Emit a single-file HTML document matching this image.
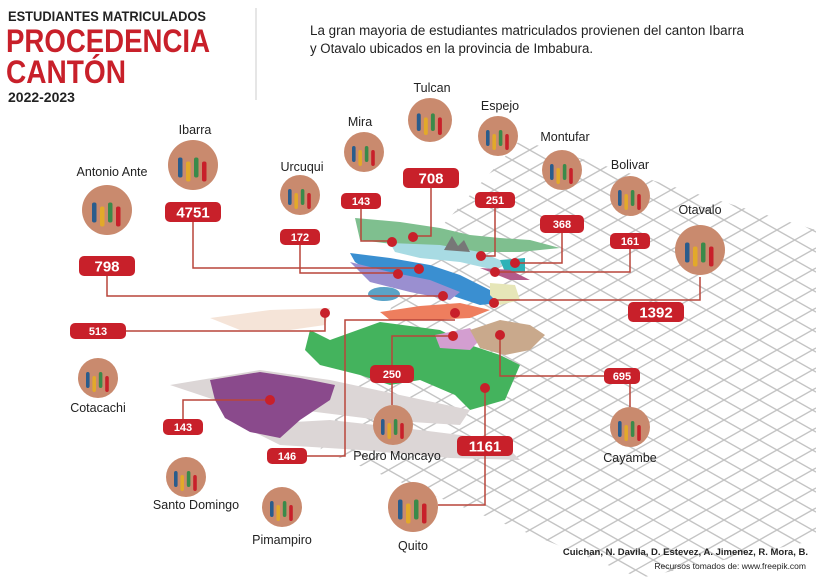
<!DOCTYPE html>
<html><head><meta charset="utf-8"><style>
html,body{margin:0;padding:0;background:#fff;width:816px;height:580px;overflow:hidden;}
svg{display:block;font-family:"Liberation Sans",sans-serif;overflow:hidden;}
</style></head><body>
<svg id="c" width="816" height="580" viewBox="0 0 816 580">
<defs><clipPath id="gc"><polygon points="520,140 816,230 816,540 640,578 320,450 420,250"/></clipPath></defs>
<g id="grid" clip-path="url(#gc)"></g>
<g>
<polygon points="170,385 260,370 330,380 400,395 470,410 460,425 380,420 300,410 230,405" fill="#dcd6d6"/>
<polygon points="240,425 330,420 420,430 500,440 520,460 450,458 360,450 280,445" fill="#dcd6d6"/>
<polygon points="310,330 330,340 380,322 440,330 470,345 500,355 520,365 505,400 470,410 455,395 420,380 390,385 360,375 320,365 305,350" fill="#44b35d"/>
<polygon points="435,335 470,328 480,340 470,350 440,348" fill="#d39ed0"/>
<polygon points="470,330 500,320 530,325 545,335 530,350 505,355 480,348" fill="#c9a98c"/>
<polygon points="210,380 260,372 300,378 335,385 330,400 300,420 280,438 250,432 225,418 215,400" fill="#8a4a8c"/>
<polygon points="210,318 270,310 330,308 325,325 290,330 240,330" fill="#f5e4d8"/>
<polygon points="380,312 420,306 460,303 490,310 470,318 430,320 390,320" fill="#ee7e5e"/>
<polygon points="355,218 400,222 440,228 470,235 500,238 530,240 560,248 520,252 480,252 440,250 400,245 360,240" fill="#7fbf8f"/>
<polygon points="390,243 440,245 480,252 505,262 495,270 460,262 420,258 395,252" fill="#a8dbe3"/>
<polygon points="350,253 390,258 430,265 460,275 490,290 500,303 480,305 450,295 410,285 370,272 355,262" fill="#3a8fd1"/>
<polygon points="350,262 390,272 430,280 460,292 450,300 410,292 370,282" fill="#9a8fd0"/>
<polygon points="500,260 525,258 525,272 505,272" fill="#2fb2b7"/>
<polygon points="480,268 510,270 530,280 510,280" fill="#b45a8a"/>
<polygon points="490,283 515,285 520,300 500,305 490,295" fill="#e6e6b8"/>
<ellipse cx="384" cy="294" rx="16" ry="7" fill="#5aa3c7"/>
<polygon points="444,250 452,236 458,246 464,240 470,252" fill="#777"/>
</g>
<g id="callouts"></g>
<g>
<text x="8" y="21" font-size="14" font-weight="bold" fill="#222" textLength="198" lengthAdjust="spacingAndGlyphs">ESTUDIANTES MATRICULADOS</text>
<text x="6" y="52" font-size="32" font-weight="bold" fill="#c8202a" textLength="204" lengthAdjust="spacingAndGlyphs">PROCEDENCIA</text>
<text x="6" y="83" font-size="32" font-weight="bold" fill="#c8202a" textLength="120" lengthAdjust="spacingAndGlyphs">CANTÓN</text>
<text x="8" y="102" font-size="14" font-weight="bold" fill="#222">2022-2023</text>
<line x1="256" y1="8" x2="256" y2="100" stroke="#ccc"/>
<text x="310" y="35" font-size="13.5" fill="#222" textLength="434" lengthAdjust="spacingAndGlyphs">La gran mayoria de estudiantes matriculados provienen del canton Ibarra</text>
<text x="310" y="53" font-size="13.5" fill="#222" textLength="283" lengthAdjust="spacingAndGlyphs">y Otavalo ubicados en la provincia de Imbabura.</text>
<text x="808" y="555" font-size="9.5" font-weight="bold" fill="#222" text-anchor="end">Cuichan, N. Davila, D. Estevez, A. Jimenez, R. Mora, B.</text>
<text x="806" y="569" font-size="8.5" fill="#222" text-anchor="end">Recursos tomados de: www.freepik.com</text>
</g>
</svg>
<script>
const cantons=["Ibarra","Antonio Ante","Urcuqui","Mira","Tulcan","Espejo","Montufar","Bolivar","Otavalo","Cotacachi","Santo Domingo","Pimampiro","Pedro Moncayo","Quito","Cayambe"];
const students=[4751,798,172,143,708,251,368,161,1392,513,143,146,250,1161,695];
const layout=[
 [193,165,25,195,134,193,212,56,20,"M193,212 V268 H419",419,269],
 [107,210,25,112,176,107,266,56,20,"M107,266 V296 H443",443,296],
 [300,195,20,302,171,300,237,40,16,"M300,237 V273 H398",398,274],
 [364,152,20,360,126,361,201,40,16,"M361,201 V241 H392",392,242],
 [430,120,22,432,92,431,178,56,20,"M431,178 V236 H413",413,237],
 [498,136,20,500,110,495,200,40,16,"M495,200 V256 H481",481,256],
 [562,170,20,565,141,562,224,44,18,"M562,224 V263 H515",515,263],
 [630,196,20,630,169,630,241,40,16,"M630,241 V272 H495",495,272],
 [700,250,25,700,214,656,312,56,20,"M700,277 V300 H494",494,303],
 [98,378,20,98,412,98,331,56,16,"M70,331 H325 V313",325,313],
 [186,477,20,196,509,183,427,40,16,"M183,427 V400 H270",270,400],
 [282,507,20,282,544,287,456,40,16,"M287,456 H345 V320 H455",455,313],
 [393,425,20,397,460,392,374,44,18,"M392,405 V336 H453",453,336],
 [413,507,25,413,550,485,446,56,20,"M485,388 V505 H438",485,388],
 [630,427,20,630,462,622,376,36,16,"M630,407 V376 H500 V335",500,335]
];
const NS="http://www.w3.org/2000/svg";
const g=document.getElementById('callouts');
const grid=document.getElementById('grid');
const XMIN=300,XMAX=816,YMIN=130,YMAX=580,S=300/530;
function clipLine(x0,y0,s){
 // line y = y0 + s*(x-x0); clip to box
 let xa=XMIN,xb=XMAX;
 const yAt=x=>y0+s*(x-x0), xAt=y=>x0+(y-y0)/s;
 let lo=Math.max(xa,Math.min(xAt(YMIN),xAt(YMAX))), hi=Math.min(xb,Math.max(xAt(YMIN),xAt(YMAX)));
 if(hi-lo<1) return null;
 return [lo,yAt(lo),hi,yAt(hi)];
}
for(let k=-40;k<40;k++){
 [S,-S].forEach(s=>{
  const seg=clipLine(300,120+k*20,s);
  if(!seg) return;
  const a=document.createElementNS(NS,'line');
  a.setAttribute('x1',seg[0]);a.setAttribute('y1',seg[1]);a.setAttribute('x2',seg[2]);a.setAttribute('y2',seg[3]);
  a.setAttribute('stroke','#c4c4c4');a.setAttribute('stroke-width','1.4');
  
  
  grid.appendChild(a);
 });
}
function el(t,attrs,parent){const e=document.createElementNS(NS,t);for(const k in attrs)e.setAttribute(k,attrs[k]);parent.appendChild(e);return e;}
cantons.forEach((name,i)=>{
 const L=layout[i];
 const grp=el('g',{},g);
 
 
 const p=el('path',{d:L[9],fill:'none',stroke:'#b9453a','stroke-width':1.5},grp);
 
 
 const d=el('circle',{cx:L[10],cy:L[11],r:5,fill:'#c8202a'},grp);
 
 
 const c=el('circle',{cx:L[0],cy:L[1],r:L[2],fill:'#c98a6e'},grp);
 
 
 for(let j=0;j<4;j++){const f=el('rect',{x:L[0]-L[2]*0.6+j*L[2]*0.32,y:L[1]-L[2]*0.3+(j%2)*4,width:L[2]*0.18,height:L[2]*0.8,fill:['#2a5c8c','#e2a92a','#3a8a4a','#c8202a'][j],rx:2},grp);
 
 }
 const t=el('text',{x:L[3],y:L[4],'font-size':12.5,fill:'#222','text-anchor':'middle'},grp);
 t.textContent=name;
 
 
 const r=el('rect',{x:L[5]-L[7]/2,y:L[6]-L[8]/2,width:L[7],height:L[8],rx:5,fill:'#c8202a'},grp);
 
 
 const v=el('text',{x:L[5],y:L[6]+(L[8]>=20?5.5:4),'font-size':L[8]>=20?15:11,'font-weight':'bold',fill:'#fff','text-anchor':'middle'},grp);
 v.textContent=students[i];
 
 
});
</script>
</body></html>
